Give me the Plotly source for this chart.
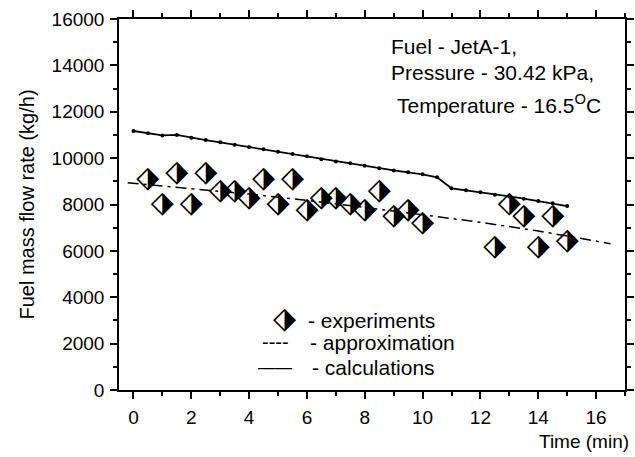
import plotly.graph_objects as go

# ---- data ----
calc_t = [0, 0.5, 1, 1.5, 2, 2.5, 3, 3.5, 4, 4.5, 5, 5.5, 6, 6.5, 7, 7.5, 8, 8.5, 9, 9.5,
          10, 10.5, 11, 11.5, 12, 12.5, 13, 13.5, 14, 14.5, 15]
calc_v = [11170, 11070, 10980, 11000, 10880, 10780, 10680, 10580, 10480, 10380, 10280,
          10180, 10080, 9950, 9850, 9780, 9670, 9560, 9470, 9390, 9300, 9170, 8700, 8610,
          8530, 8420, 8350, 8250, 8150, 8050, 7930]

exp_t = [0.5, 1, 1.5, 2, 2.5, 3, 3.5, 4, 4.5, 5, 5.5, 6, 6.5, 7, 7.5, 8, 8.5, 9, 9.5, 10,
         12.5, 13, 13.5, 14, 14.5, 15]
exp_v = [9080, 8000, 9350, 8000, 9350, 8550, 8550, 8270, 9080, 8000, 9080, 7730, 8270, 8270,
         8000, 7720, 8550, 7470, 7760, 7190, 6140, 8000, 7470, 6140, 7470, 6400]

approx_t = [-0.2, 2, 4, 6, 8, 10, 12, 14, 16.5]
approx_v = [8940, 8700, 8450, 8180, 7880, 7560, 7230, 6860, 6310]

x_ticks = [0, 2, 4, 6, 8, 10, 12, 14, 16]
y_ticks = [0, 2000, 4000, 6000, 8000, 10000, 12000, 14000, 16000]

FONT = "Arial, 'Liberation Sans', sans-serif"
SYM = "\u2B17"  # diamond with right half black
SYM_SIZE = 30

fig = go.Figure()
fig.add_trace(go.Scatter(x=approx_t, y=approx_v, mode="lines",
                         line=dict(color="black", width=1.5, dash="11px,5px,3px,5px"),
                         showlegend=False, hoverinfo="skip"))
fig.add_trace(go.Scatter(x=calc_t, y=calc_v, mode="lines+markers",
                         line=dict(color="black", width=1.8),
                         marker=dict(color="black", size=4),
                         showlegend=False, hoverinfo="skip"))
fig.add_trace(go.Scatter(x=exp_t, y=exp_v, mode="text", text=[SYM] * len(exp_t),
                         textposition="middle center",
                         textfont=dict(family="DejaVu Sans", size=SYM_SIZE, color="black"),
                         showlegend=False, hoverinfo="skip"))

axis_common = dict(showgrid=False, zeroline=False, showline=True, linecolor="black",
                   linewidth=1.5, mirror="ticks", ticks="outside", ticklen=7,
                   tickwidth=1.5, tickcolor="black", automargin=False,
                   tickfont=dict(family=FONT, size=19, color="black"))

fig.update_xaxes(range=[-0.5, 17], tickvals=x_ticks, tickformat="d",
                 ticklabelstandoff=2,
                 minor=dict(dtick=1, tick0=0, ticks="outside", ticklen=4,
                            tickwidth=1.5, tickcolor="black"),
                 **axis_common)
fig.update_yaxes(range=[0, 16000], tickvals=y_ticks, tickformat="d",
                 ticklabelstandoff=2,
                 minor=dict(dtick=1000, tick0=0, ticks="outside", ticklen=4,
                            tickwidth=1.5, tickcolor="black"),
                 title=dict(text="Fuel mass flow rate (kg/h)",
                            font=dict(family=FONT, size=20, color="black"), standoff=12),
                 **axis_common)

L, R, T, B = 119, 10, 19, 67
W, H = 635, 457
pw, ph = W - L - R, H - T - B


def px(x):
    return (x - L) / pw


def py(y):
    return (H - B - y) / ph


ann = []
def text(x, y, s, size=21, xanchor="left"):
    ann.append(dict(x=px(x), y=py(y), xref="paper", yref="paper", text=s, showarrow=False,
                    xanchor=xanchor, yanchor="middle", borderpad=0,
                    font=dict(family=FONT, size=size, color="black")))

text(390, 47, "Fuel - JetA-1,")
text(390, 72, "Pressure - 30.42 kPa,")
text(396, 104, "Temperature - 16.5<sup>O</sup>C")
text(630, 441, "Time (min)", size=19, xanchor="right")

# legend
ann.append(dict(x=px(284), y=py(317), xref="paper", yref="paper", text=SYM, showarrow=False,
                xanchor="center", yanchor="middle", borderpad=0,
                font=dict(family="DejaVu Sans", size=SYM_SIZE, color="black")))
text(307, 320, "- experiments")
text(261, 342, "----", size=20)
text(309, 342, "- approximation")
text(257, 367, "\u2014\u2014", size=17)
text(311, 367, "- calculations")

fig.update_layout(width=W, height=H, margin=dict(l=L, r=R, t=T, b=B),
                  paper_bgcolor="white", plot_bgcolor="white", annotations=ann,
                  showlegend=False)

fig.write_html("out.html", config={"displayModeBar": False},
               post_script="document.body.style.margin='0';document.body.style.padding='0';"
                           "document.documentElement.style.overflow='hidden';")
